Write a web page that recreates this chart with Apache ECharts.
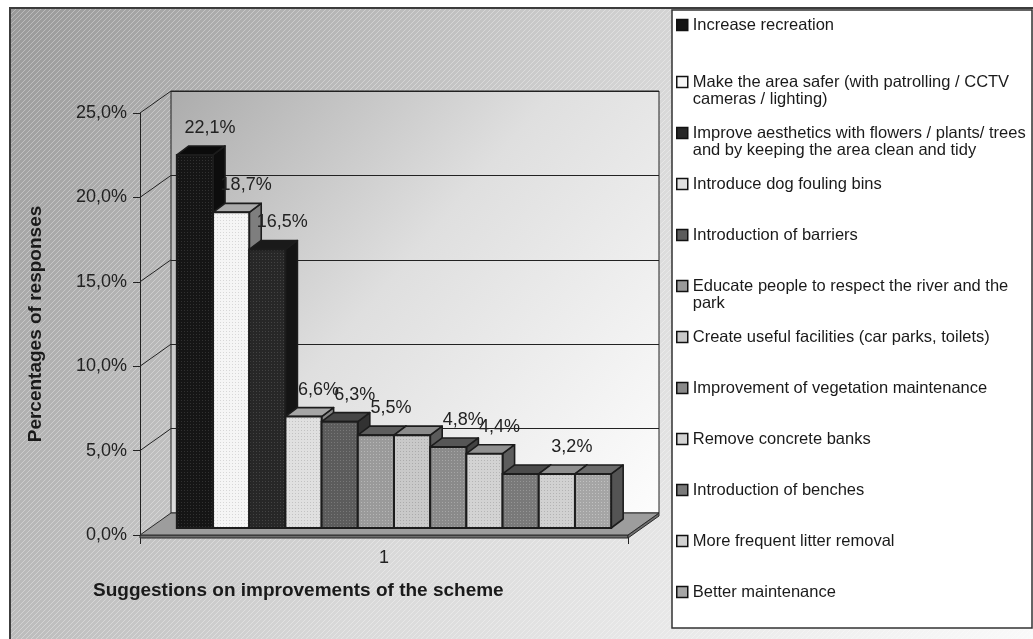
<!DOCTYPE html>
<html>
<head>
<meta charset="utf-8">
<script src="https://cdn.jsdelivr.net/npm/echarts@6/dist/echarts.min.js"></script>
<style>
  html, body { margin: 0; padding: 0; background: #ffffff; }
  #chart { width: 1033px; height: 639px; }
</style>
</head>
<body>
<div id="chart"></div>
<script>
// ---- data ----
const categories = ['1'];
const suggestions = [
  'Increase recreation',
  'Make the area safer (with patrolling / CCTV\ncameras / lighting)',
  'Improve aesthetics with flowers / plants/ trees\nand by keeping the area clean and tidy',
  'Introduce dog fouling bins',
  'Introduction of barriers',
  'Educate people to respect the river and the\npark',
  'Create useful facilities (car parks, toilets)',
  'Improvement of vegetation maintenance',
  'Remove concrete banks',
  'Introduction of benches',
  'More frequent litter removal',
  'Better maintenance'
];
const shares = [22.1, 18.7, 16.5, 6.6, 6.3, 5.5, 5.5, 4.8, 4.4, 3.2, 3.2, 3.2];
const showValue = [true, true, true, true, true, true, false, true, true, false, true, false];
const yTicks = [0, 5, 10, 15, 20, 25];

// ---- look ----
const FONT = '"Liberation Sans", Arial, Helvetica, sans-serif';
const frontColors = ['#151515', '#f5f5f5', '#272727', '#e0e0e0', '#5c5c5c', '#9a9a9a',
                     '#c9c9c9', '#8a8a8a', '#d3d3d3', '#797979', '#d1d1d1', '#a5a5a5'];
const topColors   = ['#0b0b0b', '#ababab', '#1a1a1a', '#a6a6a6', '#464646', '#5d5d5d',
                     '#8b8b8b', '#565656', '#909090', '#4b4b4b', '#8f8f8f', '#6b6b6b'];
const sideColors  = ['#0d0d0d', '#7e7e7e', '#141414', '#858585', '#323232', '#474747',
                     '#5b5b5b', '#434343', '#5d5d5d', '#393939', '#5f5f5f', '#545454'];

const FRONT = { left: 140, top: 113, width: 488, height: 422 }; // front (axis) plane
const WALL_DEPTH = [31, -22];   // offset of the back wall from the axis plane
const BAR_SHIFT = [10, -7];     // offset of the bar fronts from the axis plane
const BAR_DEPTH = [12, -9];     // visible depth of each column
const GROUP_RATIO = 0.89;       // share of the category band used by the columns

const pct = v => v.toFixed(1).replace('.', ',') + '%';

// diagonal hatch tile for the chart area
function hatchTile() {
  const c = document.createElement('canvas');
  c.width = 5; c.height = 5;
  const g = c.getContext('2d');
  g.strokeStyle = 'rgba(255,255,255,0.32)';
  g.lineWidth = 1;
  g.beginPath();
  g.moveTo(0, 5); g.lineTo(5, 0);
  g.moveTo(-1, 1); g.lineTo(1, -1);
  g.moveTo(4, 6); g.lineTo(6, 4);
  g.stroke();
  return c;
}

// fine dotted fill used on the column faces
function shade(hex, d) {
  const n = parseInt(hex.slice(1), 16);
  const f = c => Math.max(0, Math.min(255, c + d));
  return 'rgb(' + f(n >> 16) + ',' + f((n >> 8) & 255) + ',' + f(n & 255) + ')';
}
function dotted(hex) {
  const c = document.createElement('canvas');
  c.width = 3; c.height = 3;
  const g = c.getContext('2d');
  g.fillStyle = hex; g.fillRect(0, 0, 3, 3);
  const lum = parseInt(hex.slice(1, 3), 16);
  g.fillStyle = shade(hex, lum > 200 ? -30 : 28);
  g.fillRect(1, 1, 1, 1);
  return { image: c, repeat: 'repeat' };
}
const frontFills = frontColors.map(dotted);

function barRenderer(k) {
  return function (params, api) {
    const v = api.value(1);
    const base = api.coord([api.value(0), 0]);
    const tip = api.coord([api.value(0), v]);
    const band = api.size([1, 0])[0];
    const groupW = band * GROUP_RATIO;
    const w = groupW / shares.length;
    const x = base[0] - groupW / 2 + k * w + BAR_SHIFT[0];
    const yb = base[1] + BAR_SHIFT[1];
    const yt = tip[1] + BAR_SHIFT[1];
    const dx = BAR_DEPTH[0], dy = BAR_DEPTH[1];
    const edge = '#1c1c1c';
    const children = [
      { type: 'polygon', shape: { points: [[x + w, yt], [x + w + dx, yt + dy], [x + w + dx, yb + dy], [x + w, yb]] },
        style: { fill: sideColors[k], stroke: edge, lineWidth: 1.6, lineJoin: 'round' } },
      { type: 'polygon', shape: { points: [[x, yt], [x + dx, yt + dy], [x + w + dx, yt + dy], [x + w, yt]] },
        style: { fill: topColors[k], stroke: edge, lineWidth: 1.6, lineJoin: 'round' } },
      { type: 'rect', shape: { x: x, y: yt, width: w, height: yb - yt },
        style: { fill: frontFills[k], stroke: edge, lineWidth: 2 } }
    ];
    if (showValue[k]) {
      children.push({
        type: 'text', z2: 100,
        style: { text: pct(v), x: x + w / 2 + 15, y: yt + dy - 18, align: 'center', verticalAlign: 'middle',
                 fill: '#222', font: '18px ' + FONT }
      });
    }
    return { type: 'group', children: children };
  };
}

// floor slab and the links between the axis plane and the back wall
function wallRenderer(params, api) {
  const cs = params.coordSys;
  const v = api.value(1);
  const p = api.coord([0, v]);
  const x0 = cs.x, y = p[1];
  const children = [];
  if (v === 0) {
    const x1 = cs.x + cs.width;
    children.push(
      { type: 'polygon', shape: { points: [[x0, y], [x1, y], [x1, y + 3], [x0, y + 3]] },
        style: { fill: '#6e6e6e', stroke: '#2a2a2a', lineWidth: 1 } },
      { type: 'polygon', shape: { points: [[x1, y], [x1 + WALL_DEPTH[0], y + WALL_DEPTH[1]], [x1 + WALL_DEPTH[0], y + WALL_DEPTH[1] + 3], [x1, y + 3]] },
        style: { fill: '#6e6e6e', stroke: '#2a2a2a', lineWidth: 1 } },
      { type: 'polygon', shape: { points: [[x0, y], [x1, y], [x1 + WALL_DEPTH[0], y + WALL_DEPTH[1]], [x0 + WALL_DEPTH[0], y + WALL_DEPTH[1]]] },
        style: { fill: '#9d9d9d', stroke: '#2a2a2a', lineWidth: 1 } }
    );
  } else {
    children.push({ type: 'line', shape: { x1: x0, y1: y, x2: x0 + WALL_DEPTH[0], y2: y + WALL_DEPTH[1] },
      style: { stroke: '#222', lineWidth: 1 } });
  }
  return { type: 'group', children: children };
}

// legend rows: first-line centre of each entry
function legendCentre(i) { return i === 0 ? 25 : 82 + (i - 1) * 51; }

const legends = suggestions.map((name, i) => {
  const twoLines = name.indexOf('\n') >= 0;
  return {
    orient: 'vertical',
    left: 676,
    top: legendCentre(i) - (twoLines ? 25.5 : 8.5),
    padding: 0,
    itemWidth: 11, itemHeight: 11, itemGap: 0,
    icon: 'rect',
    selectedMode: false,
    itemStyle: { borderColor: '#111', borderWidth: 1.5 },
    // an empty leading line keeps the marker level with the first text line
    formatter: n => (n.indexOf('\n') >= 0 ? '\n' + n : n),
    textStyle: { fontFamily: FONT, fontSize: 16.5, color: '#1a1a1a', lineHeight: 17 },
    data: [name]
  };
});

const wallGradient = new echarts.graphic.LinearGradient(0, 0, 1, 1, [
  { offset: 0, color: '#acacac' }, { offset: 0.45, color: '#dfdfdf' }, { offset: 1, color: '#fdfdfd' }
]);
const areaGradient = new echarts.graphic.LinearGradient(0, 0, 1, 1, [
  { offset: 0, color: '#999999' }, { offset: 0.5, color: '#d9d9d9' }, { offset: 1, color: '#fbfbfb' }
]);

const series = [{
  type: 'custom', name: 'wall', xAxisIndex: 0, yAxisIndex: 0, z: 1, silent: true,
  renderItem: wallRenderer,
  data: yTicks.map(v => [0, v])
}].concat(suggestions.map((name, k) => ({
  type: 'custom', name: name, xAxisIndex: 0, yAxisIndex: 0, z: 3,
  itemStyle: { color: frontColors[k] },
  renderItem: barRenderer(k),
  data: [[0, shares[k]]]
})));

const chart = echarts.init(document.getElementById('chart'), null, { renderer: 'canvas' });
chart.setOption({
  animation: false,
  backgroundColor: '#ffffff',
  textStyle: { fontFamily: FONT },
  title: {
    text: 'Suggestions on improvements of the scheme',
    left: 93, top: 581, padding: 0,
    textStyle: { fontFamily: FONT, fontSize: 19, fontWeight: 'bold', color: '#1a1a1a' }
  },
  graphic: [
    { type: 'rect', z: -20, silent: true, shape: { x: 10, y: 8, width: 1040, height: 650 },
      style: { fill: areaGradient, stroke: '#3c3c3c', lineWidth: 2 } },
    { type: 'rect', z: -19, silent: true, shape: { x: 11, y: 9, width: 1040, height: 650 },
      style: { fill: { image: hatchTile(), repeat: 'repeat' } } },
    { type: 'rect', z: -18, silent: true, shape: { x: 672, y: 10, width: 360, height: 618 },
      style: { fill: '#ffffff', stroke: '#333', lineWidth: 1.5 } }
  ],
  legend: legends,
  grid: [
    { left: FRONT.left, top: FRONT.top, width: FRONT.width, height: FRONT.height, show: false },
    { left: FRONT.left + WALL_DEPTH[0], top: FRONT.top + WALL_DEPTH[1], width: FRONT.width, height: FRONT.height,
      show: true, backgroundColor: wallGradient, borderColor: '#222', borderWidth: 1 }
  ],
  xAxis: [
    { gridIndex: 0, type: 'category', data: categories,
      axisLine: { show: true, lineStyle: { color: '#222', width: 1 } },
      axisTick: { show: true, length: 9, lineStyle: { color: '#222' } },
      axisLabel: { fontSize: 18, color: '#222', margin: 14, fontFamily: FONT },
      splitLine: { show: false } },
    { gridIndex: 1, type: 'category', data: categories, show: false }
  ],
  yAxis: [
    { gridIndex: 0, type: 'value', min: 0, max: 25, interval: 5,
      axisLine: { show: true, lineStyle: { color: '#222', width: 1 } },
      axisTick: { show: true, length: 7, lineStyle: { color: '#222' } },
      axisLabel: { formatter: pct, fontSize: 18, color: '#222', margin: 13, fontFamily: FONT },
      splitLine: { show: false },
      name: 'Percentages of responses', nameLocation: 'middle', nameGap: 95, nameRotate: 90,
      nameTextStyle: { fontFamily: FONT, fontSize: 19, fontWeight: 'bold', color: '#1a1a1a' } },
    { gridIndex: 1, type: 'value', min: 0, max: 25, interval: 5,
      axisLine: { show: false }, axisTick: { show: false }, axisLabel: { show: false },
      splitLine: { show: true, lineStyle: { color: '#222', width: 1 } } }
  ],
  series: series
});
</script>
</body>
</html>
